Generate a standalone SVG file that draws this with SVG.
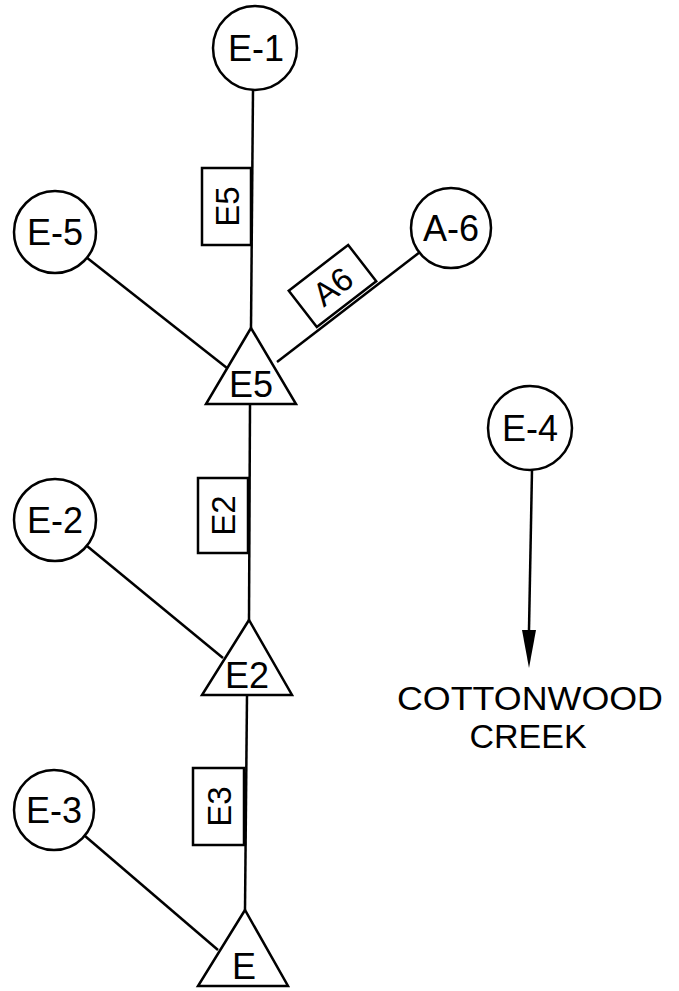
<svg xmlns="http://www.w3.org/2000/svg" width="679" height="991" viewBox="0 0 679 991">
<style>
.s{fill:#fff;stroke:#000;stroke-width:2.5}
.c{fill:none;stroke:#000;stroke-width:2.5}
.t{font-family:"Liberation Sans",Arial,sans-serif;font-size:36px;fill:#000;text-anchor:middle}
.b{font-family:"Liberation Sans",Arial,sans-serif;font-size:33px;fill:#000;text-anchor:middle}
.r{font-family:"Liberation Sans",Arial,sans-serif;font-size:34px;fill:#000;text-anchor:middle}
</style>
<rect width="679" height="991" fill="#fff"/>
<g id="connectors">
<line class="c" x1="253" y1="90" x2="251" y2="328"/>
<line class="c" x1="250" y1="404" x2="249" y2="620"/>
<line class="c" x1="247" y1="695" x2="245" y2="910"/>
<line class="c" x1="86" y1="257" x2="227" y2="368"/>
<line class="c" x1="420" y1="252" x2="277" y2="362"/>
<line class="c" x1="87" y1="546" x2="223" y2="658"/>
<line class="c" x1="85" y1="836" x2="218" y2="950"/>
<line x1="532" y1="470" x2="529" y2="630" stroke="#000" stroke-width="2.5"/>
<polygon points="522,630 536,630 529,668" fill="#000"/>
</g>
<g id="lbl-E5"><rect class="s" x="202" y="168" width="49" height="77"/><text class="b" transform="rotate(-90 226.5 206.5)" x="226.5" y="218.5">E5</text></g>
<g id="lbl-A6" transform="translate(332.5 286) rotate(-37.6)"><rect class="s" x="-37.5" y="-23" width="75" height="46"/><text class="b" x="0" y="12">A6</text></g>
<g id="lbl-E2"><rect class="s" x="198" y="478" width="50" height="75"/><text class="b" transform="rotate(-90 223 515.5)" x="223" y="527.5">E2</text></g>
<g id="lbl-E3"><rect class="s" x="193" y="768" width="51" height="77"/><text class="b" transform="rotate(-90 218.5 806.5)" x="218.5" y="818.5">E3</text></g>
<g id="E-1"><circle class="s" cx="255" cy="48" r="42"/><text class="t" x="256" y="61">E-1</text></g>
<g id="E-5"><circle class="s" cx="55" cy="232" r="41"/><text class="t" x="55" y="245">E-5</text></g>
<g id="A-6"><circle class="s" cx="451" cy="228" r="40"/><text class="t" x="451" y="241">A-6</text></g>
<g id="E-2"><circle class="s" cx="55" cy="520" r="41"/><text class="t" x="55" y="533">E-2</text></g>
<g id="E-3"><circle class="s" cx="54" cy="810" r="40"/><text class="t" x="54" y="823">E-3</text></g>
<g id="E-4"><circle class="s" cx="530" cy="428" r="42"/><text class="t" x="530" y="441">E-4</text></g>
<g id="T-E5"><polygon class="s" points="251,328 206,404 296,404"/><text class="t" x="251" y="397">E5</text></g>
<g id="T-E2"><polygon class="s" points="249,620 202,695 292,695"/><text class="t" x="247" y="688">E2</text></g>
<g id="T-E"><polygon class="s" points="245,910 198,986 288,986"/><text class="t" x="244" y="979">E</text></g>
<g id="creek"><text class="r" x="530" y="710" textLength="266" lengthAdjust="spacingAndGlyphs">COTTONWOOD</text><text class="r" x="528" y="748">CREEK</text></g>
</svg>
